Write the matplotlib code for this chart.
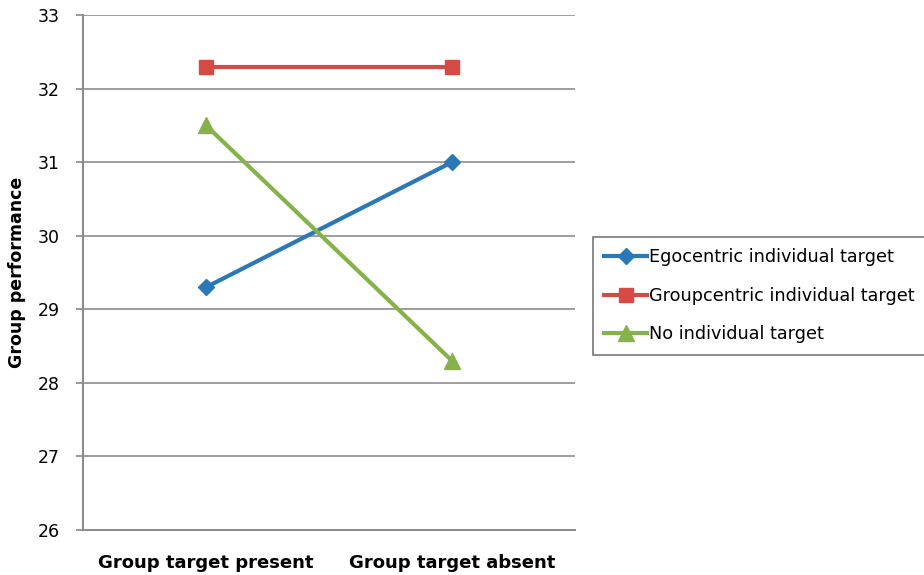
import matplotlib
matplotlib.use("Agg")
import matplotlib.pyplot as plt

conditions = ["Group target present", "Group target absent"]
egocentric = [29.3, 31.0]
groupcentric = [32.3, 32.3]
no_target = [31.5, 28.3]

plt.rcParams['font.family'] = ['DejaVu Sans']

fig = plt.figure(figsize=(9.24, 5.75), dpi=100)
ax = fig.add_axes([83/924, 45/575, 492/924, 515/575])

x = [0.5, 1.5]
ax.plot(x, egocentric, color='#2a78b6', lw=3, marker='D', ms=8, label='Egocentric individual target')
ax.plot(x, groupcentric, color='#d64a45', lw=3, marker='s', ms=10, label='Groupcentric individual target')
ax.plot(x, no_target, color='#86b24a', lw=3, marker='^', ms=11, label='No individual target')

ax.set_xlim(0, 2)
ax.set_ylim(26, 33)
ax.set_yticks(range(26, 34))
ax.set_xticks(x)
ax.set_xticklabels(conditions, fontweight='bold', fontsize=13)
ax.tick_params(axis='x', length=0, pad=17)
ax.tick_params(axis='y', length=5, width=1.2, color='#888888', labelsize=12.5, pad=12)
ax.grid(axis='y', color='#8c8c8c', lw=1.2)
ax.set_axisbelow(True)
for s in ['top', 'right']:
    ax.spines[s].set_visible(False)
for s in ['left', 'bottom']:
    ax.spines[s].set_color('#8c8c8c')
    ax.spines[s].set_linewidth(1.5)
ax.set_ylabel('Group performance', fontweight='bold', fontsize=12.5, labelpad=8)

leg = ax.legend(loc='upper left', bbox_to_anchor=(593/924, 1 - 237/575), bbox_transform=fig.transFigure,
                frameon=True, fancybox=False, edgecolor='#555555', fontsize=12.7,
                handlelength=2.4, handletextpad=0.1, borderpad=0.65, labelspacing=1.15, borderaxespad=0)
leg.get_frame().set_linewidth(1.2)

fig.savefig('out.png', dpi=100)
